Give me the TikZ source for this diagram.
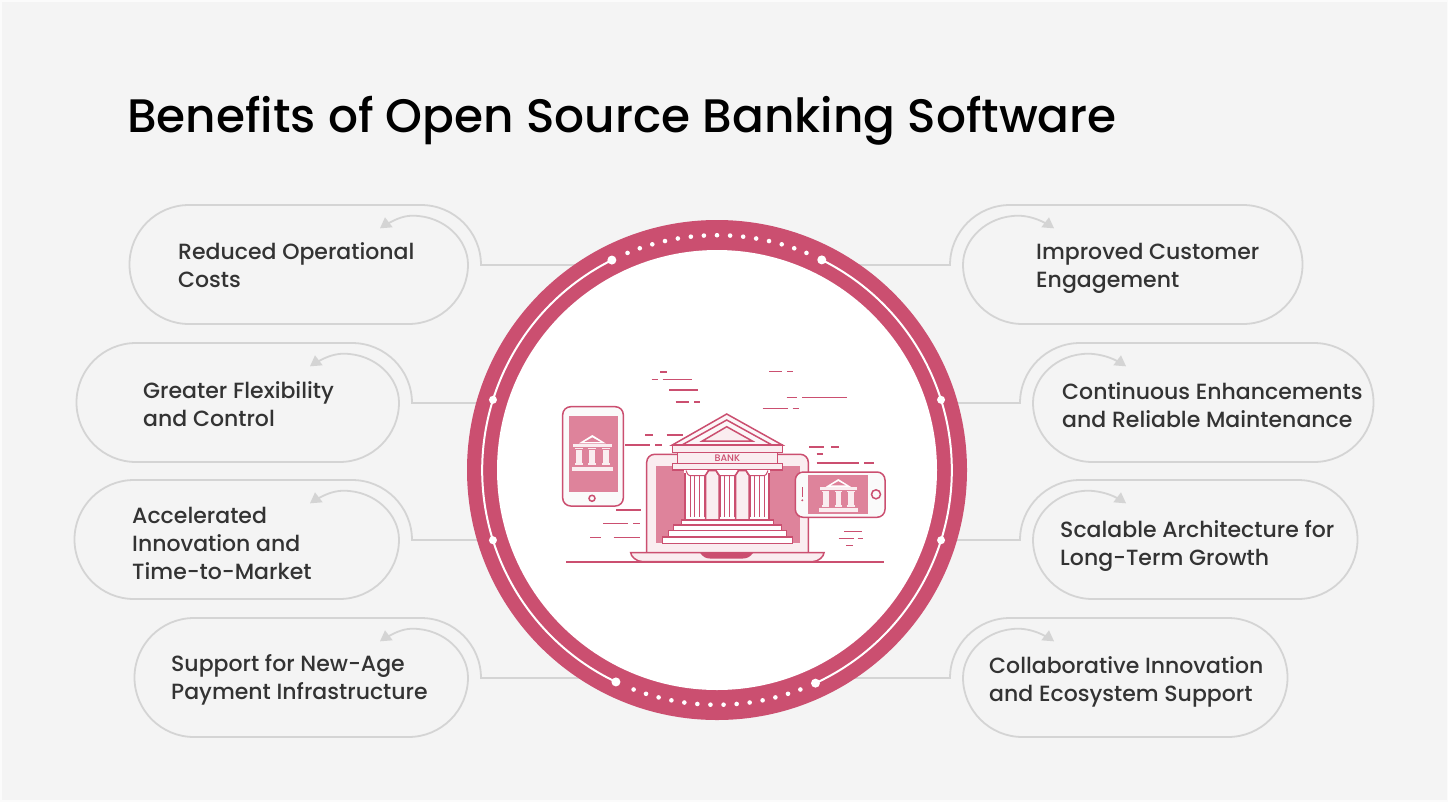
\documentclass[tikz,border=0pt]{standalone}
\usepackage{fontspec}
\setmainfont{Poppins Medium}
\newfontfamily\titlefont{Poppins Medium}
\definecolor{bgc}{HTML}{F4F4F4}
\definecolor{ringc}{HTML}{CB4F70}
\definecolor{midc}{HTML}{DE839B}
\definecolor{palec}{HTML}{FAEDF0}
\definecolor{linec}{HTML}{D4D4D4}
\definecolor{txtc}{HTML}{333333}
\tikzset{
 pillline/.style={draw=linec,line width=1.8pt},
 pilltip/.style={fill=linec,draw=none},
 label/.style={anchor=west,align=left,inner sep=0pt,text=txtc,font=\fontsize{22}{28}\selectfont},
 ink/.style={draw=ringc,line width=1.5pt},
 dashline/.style={draw=ringc,line width=1.1pt},
}
% left pill: left x, right x, top y, arrow x, connector end x
\newcommand{\leftpill}[5]{%
 \path[pillline] (#5,#3+60) -- (#2+13,#3+60) arc[start angle=0,end angle=-90,radius=60]
   -- (#1+59,#3) arc[start angle=-90,end angle=-270,radius=59.5]
   -- (#2-59.5,#3+119) arc[start angle=90,end angle=0,radius=59.5]
   .. controls (#2,#3+35) and (#2-23,#3+11) .. (#2-55,#3+10.7)
   .. controls (#2-63,#3+10.7) and (#4+16,#3+13) .. (#4+7,#3+18);
 \path[pilltip] (#4-2,#3+23.3) -- (#4+3,#3+12.3) -- (#4+10.7,#3+22.3) -- cycle;
}
\newcommand{\rightpill}[5]{%
 \path[pillline] (#5,#3+60) -- (#1-13,#3+60) arc[start angle=180,end angle=270,radius=60]
   -- (#2-59,#3) arc[start angle=-90,end angle=90,radius=59.5]
   -- (#1+59.5,#3+119) arc[start angle=90,end angle=180,radius=59.5]
   .. controls (#1,#3+35) and (#1+23,#3+11) .. (#1+55,#3+10.7)
   .. controls (#1+63,#3+10.7) and (#4-16,#3+13) .. (#4-7,#3+18);
 \path[pilltip] (#4+2,#3+23.3) -- (#4-3,#3+12.3) -- (#4-10.7,#3+22.3) -- cycle;
}
% small bank icon, top centre at (#1,#2), scale #3
\newcommand{\smallbank}[3]{%
 \begin{scope}[shift={(#1,#2)},scale=#3]
  \fill[white] (0,0) -- (13.5,8.4) -- (-13.5,8.4) -- cycle;
  \fill[midc] (0,2.4) -- (8,6.9) -- (-8,6.9) -- cycle;
  \fill[palec] (-19.5,8.8) rectangle (20,12.3);
  \foreach \c in {-13.5,0,13.5}{
   \fill[palec] (\c-3,14.5) rectangle (\c+3,28);
   \fill[palec] (\c-4,13) rectangle (\c+4,14.3);
   \fill[palec] (\c-4,28.4) rectangle (\c+4,30);
  }
  \fill[palec] (-20.5,31.5) rectangle (21,35.8);
 \end{scope}}
\begin{document}
\begin{tikzpicture}[x=1pt,y=-1pt]
\useasboundingbox (0,0) rectangle (1448,801);
\fill[bgc] (0,0) rectangle (1448,801);
\draw[white!60!bgc,line width=3pt] (0,0) rectangle (1448,801);
\node[anchor=base west,inner sep=0pt,font=\titlefont\fontsize{47}{50}\selectfont,text=black] (title) at (127,132) {Benefits of Open Source Banking Software};

\leftpill{130}{468}{205}{382}{590}
\leftpill{77}{399}{343}{312}{485}
\leftpill{75}{399}{480}{312}{485}
\leftpill{135}{468}{618}{382}{590}
\rightpill{963}{1302}{205}{1052}{850}
\rightpill{1033}{1373}{343}{1124}{950}
\rightpill{1033}{1357}{480}{1124}{950}
\rightpill{963}{1287}{618}{1052}{850}

\node[label] (t1) at (178,265) {Reduced Operational\\Costs};
\node[label] (t2) at (143,404) {Greater Flexibility\\and Control};
\node[label] (t3) at (132,543) {Accelerated\\Innovation and\\Time-to-Market};
\node[label] (t4) at (171,680) {Support for New-Age\\Payment Infrastructure};
\node[label] (t5) at (1036,268.5) {Improved Customer\\Engagement};
\node[label] (t6) at (1062,405) {Continuous Enhancements\\and Reliable Maintenance};
\node[label] (t7) at (1060,546) {Scalable Architecture for\\Long-Term Growth};
\node[label] (t8) at (989,682) {Collaborative Innovation\\and Ecosystem Support};

% hub
\fill[ringc] (717,470) circle[radius=250];
\fill[white] (717,470) circle[radius=220];
\begin{scope}[shift={(717,470)},yscale=-1]
 \draw[white,line width=2pt] (116.6:234.8) arc[start angle=116.6,delta angle=127.9,radius=234.8];
 \draw[white,line width=2pt] (63.5:234.8) arc[start angle=63.5,delta angle=-128.5,radius=234.8];
 \foreach \a in {116.6,63.5,244.5,294.8}{\fill[white] (\a:234.8) circle[radius=4.5];}
 \foreach \a in {162.6,197.4,17.4,-17.4}{\fill[white] (\a:234.8) circle[radius=4];}
 \foreach \k in {-7,...,7}{\fill[white] (90+3.2*\k:234.8) circle[radius=2.3];}
 \foreach \k in {-7,...,6}{\fill[white] (271.6+3.2*\k:234.8) circle[radius=2.3];}
\end{scope}

% dashes
\begin{scope}[shift={(540,350)},scale=0.33333]
\foreach \a/\b/\c in {360/380/66,335/353/89,368/457/89,388/473/120,407/447/156,462/480/156,
 687/727/64,741/760/64,740/772/143,786/921/143,668/745/176,758/777/176,
 316/340/255,380/428/255,255/330/285,345/365/285,
 807/853/291,873/897/291,830/848/312,830/958/339,972/1002/339,
 228/303/480,190/265/520,280/300/520,150/183/563,221/300/563,
 912/966/545,896/942/566,953/970/566,918/938/586}
 {\draw[dashline] (\a,\c) -- (\b,\c);}
\end{scope}

% left phone
\path[ink,fill=white!50!bgc,rounded corners=8pt] (562.7,406.7) rectangle (623.3,506);
\fill[midc] (568.7,416) rectangle (617.7,491.7);
\draw[ink] (592,498.3) circle[radius=3];
\smallbank{592.3}{435}{1}

% laptop
\path[ink,fill=palec,rounded corners=8pt] (646.7,552.7) -- (646.7,454.3) -- (808.3,454.3) -- (808.3,552.7);
\fill[midc] (655.7,465.7) rectangle (800,543.3);
\path[ink,fill=palec] (630.7,552.7) -- (824,552.7) .. controls (824,556) and (819,561.7) .. (812,561.7) -- (643,561.7) .. controls (636,561.7) and (630.7,556) .. (630.7,552.7) -- cycle;
\path[fill=ringc] (700,552.7) -- (753.3,552.7) .. controls (750,557) and (747,558.5) .. (743,558.5) -- (710,558.5) .. controls (706,558.5) and (703,557) .. (700,552.7) -- cycle;
\draw[ink] (566,562) -- (884,562);

% main bank
\path[ink,fill=palec!50!white] (726.7,414) -- (782.3,445) -- (672.3,445) -- cycle;
\draw[ink] (682,445) -- (726.7,420) -- (772,445);
\path[ink,fill=palec] (726.7,426.7) -- (752.3,441) -- (702.3,441) -- cycle;
\path[ink,fill=palec] (672.3,445) rectangle (782.3,452.3);
\path[ink,fill=palec] (677.3,452.3) rectangle (777.7,463.3);
\node[inner sep=0pt,text=ringc,font=\fontsize{9.5}{9}\selectfont] (banklabel) at (727.3,458) {BANK};
\path[ink,fill=palec] (672.3,463.3) rectangle (782.3,470);
\fill[white] (684,470) rectangle (770,520);
\foreach \xa/\xb in {705.7/719,735.7/749}{
 \path[ink,fill=palec] (\xa,520) -- (\xa,475) -- (\xa+3,470.5) -- (\xb-3,470.5) -- (\xb,475) -- (\xb,520) -- cycle;
}
\foreach \c in {697,727,757}{
 \draw[ink,line width=1pt] (\c-11,470.5) .. controls (\c-9,475) .. (\c-7.5,475.5) -- (\c+7.5,475.5) .. controls (\c+9,475) .. (\c+11,470.5);
 \foreach \d in {-7,-2.4,2.4,7}{\draw[ringc,line width=1pt] (\c+\d,476) -- (\c+\d,517);}
}
\draw[ink] (685,473) -- (685,520) (769,473) -- (769,520);
\path[ink,fill=white] (681.7,520) rectangle (773.3,525);
\path[ink,fill=white] (673.3,525) rectangle (781.7,530.7);
\path[ink,fill=white] (668.3,530.7) rectangle (786.7,536.7);
\path[ink,fill=white] (662.7,537) rectangle (792.3,543.3);

% landscape phone
\path[ink,fill=white!50!bgc,rounded corners=8pt] (795.3,472) rectangle (885,517.3);
\fill[midc] (808,475) rectangle (867.7,514);
\draw[ink] (876,494.3) circle[radius=4.5];
\draw[ringc,line width=1.3pt] (802.3,487.3) -- (802.3,497.3);
\fill[ringc] (802.3,500.3) circle[radius=1.1];
\smallbank{838.3}{479}{0.93}
\end{tikzpicture}
\end{document}
